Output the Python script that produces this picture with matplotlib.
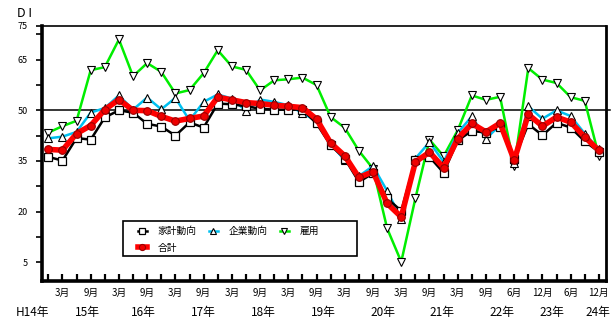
import matplotlib
matplotlib.use("Agg")
import matplotlib.pyplot as plt
from matplotlib.ticker import FixedLocator
from matplotlib.patches import Rectangle

plt.rcParams['font.family'] = ['Noto Sans CJK JP', 'DejaVu Sans']

# quarterly survey points, H14/12 .. H24/12 (no H23/3 survey)
month_labels = ['', '3月', '', '9月', '', '3月', '', '9月', '', '3月',
                '', '9月', '', '3月', '', '9月', '', '3月', '', '9月',
                '', '3月', '', '9月', '', '3月', '', '9月', '', '3月',
                '', '9月', '', '6月', '', '12月', '', '6月', '', '12月']

kakei = [36.2, 35.1, 41.8, 41.3, 47.9, 50.0, 49.3, 46.0, 45.2, 42.5,
         46.4, 44.9, 52.0, 51.8, 51.2, 50.5, 50.2, 50.2, 50.2, 46.1,
         39.6, 35.7, 28.8, 31.3, 23.9, 20.2, 35.2, 36.2, 31.5, 41.1,
         43.9, 43.4, 45.2, 35.6, 45.9, 42.6, 46.3, 44.9, 40.8, 37.7]
kigyo = [41.7, 42.2, 43.6, 49.3, 50.7, 54.4, 50.2, 53.8, 50.3, 53.7,
         47.0, 52.5, 54.7, 53.5, 49.8, 53.2, 52.5, 51.5, 49.2, 46.8,
         40.0, 35.2, 30.5, 33.5, 26.1, 17.9, 35.7, 40.6, 34.7, 43.3,
         48.2, 41.6, 45.6, 34.5, 51.2, 47.5, 50.0, 48.3, 43.1, 38.4]
koyo = [43.4, 45.3, 46.9, 61.9, 62.8, 71.0, 60.1, 64.0, 61.4, 55.0,
        56.0, 61.0, 67.8, 63.0, 62.0, 55.9, 58.9, 59.2, 59.7, 57.5,
        48.0, 44.8, 38.0, 32.7, 15.0, 5.1, 23.9, 41.3, 36.4, 44.1,
        54.4, 53.1, 54.0, 33.5, 62.5, 59.1, 58.1, 53.9, 52.8, 36.4]
gokei = [38.4, 38.2, 43.1, 45.5, 50.2, 53.2, 50.0, 49.9, 48.2, 46.8,
         47.6, 48.3, 53.9, 53.1, 52.3, 52.0, 51.5, 51.2, 50.8, 47.4,
         40.3, 36.5, 30.1, 31.8, 22.4, 18.4, 34.7, 37.6, 33.0, 41.6,
         46.1, 43.6, 46.2, 35.2, 48.8, 45.3, 48.0, 46.5, 42.1, 38.1]

year_labels = ['H14年', '15年', '16年', '17年', '18年', '19年',
               '20年', '21年', '22年', '23年', '24年']
year_pos = [-1.15, 2.8, 6.7, 11.0, 15.2, 19.45, 23.7, 27.9, 32.1, 35.7, 38.9]

x = list(range(len(kakei)))

fig = plt.figure(figsize=(6.13, 3.33), dpi=100)
ax = fig.add_axes([0.0685, 0.156, 0.92, 0.766])

ax.axhline(50, xmin=0, xmax=1.008, color='black', linewidth=1.1, clip_on=False, zorder=1)

l_koyo, = ax.plot(x, koyo, color='#00ee00', linewidth=1.8, marker='v', markersize=6,
                  markerfacecolor='white', markeredgecolor='black', markeredgewidth=0.8,
                  label='雇用', zorder=2)
l_kigyo, = ax.plot(x, kigyo, color='#00c0f0', linewidth=1.8, marker='^', markersize=6,
                   markerfacecolor='white', markeredgecolor='black', markeredgewidth=0.8,
                   label='企業動向', zorder=3)
l_kakei, = ax.plot(x, kakei, color='black', linewidth=1.8, marker='s', markersize=5.5,
                   markerfacecolor='white', markeredgecolor='black', markeredgewidth=0.9,
                   label='家計動向', zorder=4)
l_gokei, = ax.plot(x, gokei, color='#ff0000', linewidth=4, marker='o', markersize=5.5,
                   markerfacecolor='#ee0000', markeredgecolor='#990000', markeredgewidth=0.8,
                   label='合計', zorder=5)

ax.set_xlim(-0.45, 39.5)
ax.set_ylim(-0.6, 75)

# y axis: labels every 15 from 5, plus the 75 at the top
ax.set_yticks([5, 20, 35, 50, 65, 75])
ax.set_yticklabels(['5', '20', '35', '50', '65', '75'], fontsize=6.5)
ax.yaxis.set_minor_locator(FixedLocator([12.5, 27.5, 42.5, 57.5, 72.5]))
ax.tick_params(axis='y', which='both', direction='out', length=4, width=1.2, pad=6)

ax.set_xticks(x)
ax.set_xticklabels(month_labels, fontsize=7)
ax.tick_params(axis='x', direction='in', length=5, width=1.6, pad=5)

for sp in ['left', 'bottom']:
    ax.spines[sp].set_linewidth(2.6)
ax.spines['right'].set_linewidth(2)
ax.spines['top'].set_linewidth(1.2)

for lab, p in zip(year_labels, year_pos):
    ax.text(p, -0.125, lab, transform=ax.get_xaxis_transform(),
            ha='center', va='center', fontsize=8.5, clip_on=False)

fig.text(0.028, 0.958, 'D I', fontsize=9, ha='left', va='center')

# legend box drawn separately so it can be wider than its entries
box = Rectangle((0.143, 0.099), 0.415, 0.136, transform=ax.transAxes,
                facecolor='white', edgecolor='black', linewidth=1.2, zorder=9)
ax.add_patch(box)
leg = ax.legend([l_kakei, l_gokei, l_kigyo, l_koyo],
                ['家計動向', '合計', '企業動向', '雇用'], ncol=3,
                loc='upper left', bbox_to_anchor=(0.170, 0.216),
                fontsize=7, frameon=False,
                handlelength=0.9, handletextpad=1.1, columnspacing=1.3,
                borderaxespad=0, borderpad=0, labelspacing=0.7,
                markerscale=0.8)
leg.set_zorder(10)

fig.savefig('out.png', dpi=100)
